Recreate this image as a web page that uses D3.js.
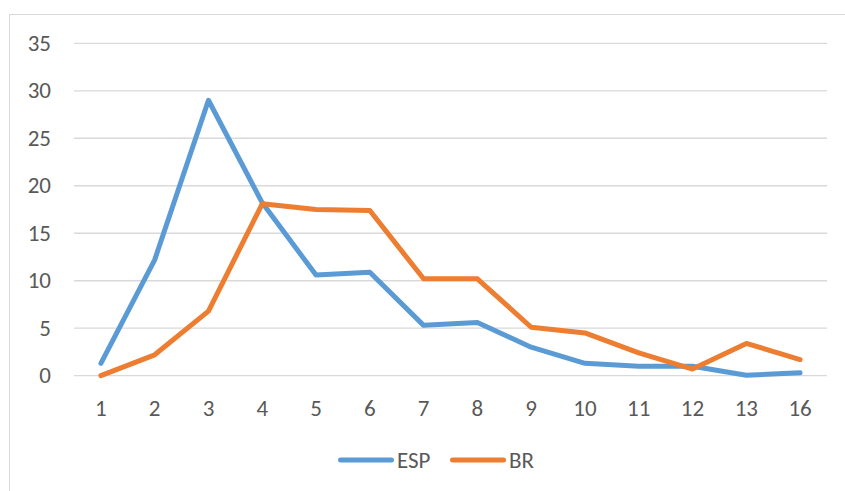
<!DOCTYPE html>
<html>
<head>
<meta charset="utf-8">
<script src="https://cdn.jsdelivr.net/npm/d3@7"></script>
<style>
  html, body { margin: 0; padding: 0; background: #fff; }
  svg text { font-family: Carlito, Calibri, "Liberation Sans", Arial, sans-serif; fill: #595959; }
</style>
</head>
<body>
<svg id="chart" width="845" height="491"></svg>
<script>
const categories = ["1","2","3","4","5","6","7","8","9","10","11","12","13","16"];
const espValues = [1.3, 12.2, 29.0, 18.2, 10.6, 10.9, 5.3, 5.6, 3.0, 1.3, 1.0, 1.0, 0.05, 0.3];
const brValues  = [0.0, 2.2, 6.8, 18.1, 17.5, 17.4, 10.2, 10.2, 5.1, 4.5, 2.4, 0.7, 3.4, 1.7];
const yTicks = [0, 5, 10, 15, 20, 25, 30, 35];
const seriesNames = ["ESP", "BR"];
const seriesColors = ["#5B9BD5", "#ED7D31"];

const svg = d3.select("#chart");

// outer chart border
svg.append("rect")
  .attr("x", 9.5).attr("y", 14.5)
  .attr("width", 900).attr("height", 600)
  .attr("fill", "none").attr("stroke", "#D9D9D9").attr("stroke-width", 1);

const x = d3.scaleBand().domain(categories).range([74, 827]);
const y = d3.scaleLinear().domain([0, 35]).range([375.7, 43.3]);
const cx = c => x(c) + x.bandwidth() / 2;

// gridlines
svg.append("g").selectAll("line").data(yTicks).join("line")
  .attr("x1", 74).attr("x2", 827)
  .attr("y1", d => y(d)).attr("y2", d => y(d))
  .attr("stroke", "#D9D9D9").attr("stroke-width", 1.3);

// y axis labels
svg.append("g").selectAll("text").data(yTicks).join("text")
  .attr("x", 51).attr("y", d => y(d))
  .attr("dy", "0.33em")
  .attr("text-anchor", "end")
  .attr("font-size", "23px")
  .text(d => d);

// x axis labels
svg.append("g").selectAll("text").data(categories).join("text")
  .attr("x", d => cx(d)).attr("y", 408)
  .attr("dy", "0.33em")
  .attr("text-anchor", "middle")
  .attr("font-size", "23px")
  .text(d => d);

// lines
const line = d3.line()
  .x((d, i) => cx(categories[i]))
  .y(d => y(d));

[espValues, brValues].forEach((vals, k) => {
  svg.append("path")
    .datum(vals)
    .attr("d", line)
    .attr("fill", "none")
    .attr("stroke", seriesColors[k])
    .attr("stroke-width", 5)
    .attr("stroke-linejoin", "round")
    .attr("stroke-linecap", "round");
});

// legend
const legendX = [340.5, 452.5];
const lg = svg.append("g");
seriesNames.forEach((name, k) => {
  lg.append("line")
    .attr("x1", legendX[k]).attr("x2", legendX[k] + 51)
    .attr("y1", 460).attr("y2", 460)
    .attr("stroke", seriesColors[k])
    .attr("stroke-width", 5)
    .attr("stroke-linecap", "round");
  lg.append("text")
    .attr("x", legendX[k] + 56.5).attr("y", 460)
    .attr("dy", "0.33em")
    .attr("font-size", "23px")
    .text(name);
});
</script>
</body>
</html>
